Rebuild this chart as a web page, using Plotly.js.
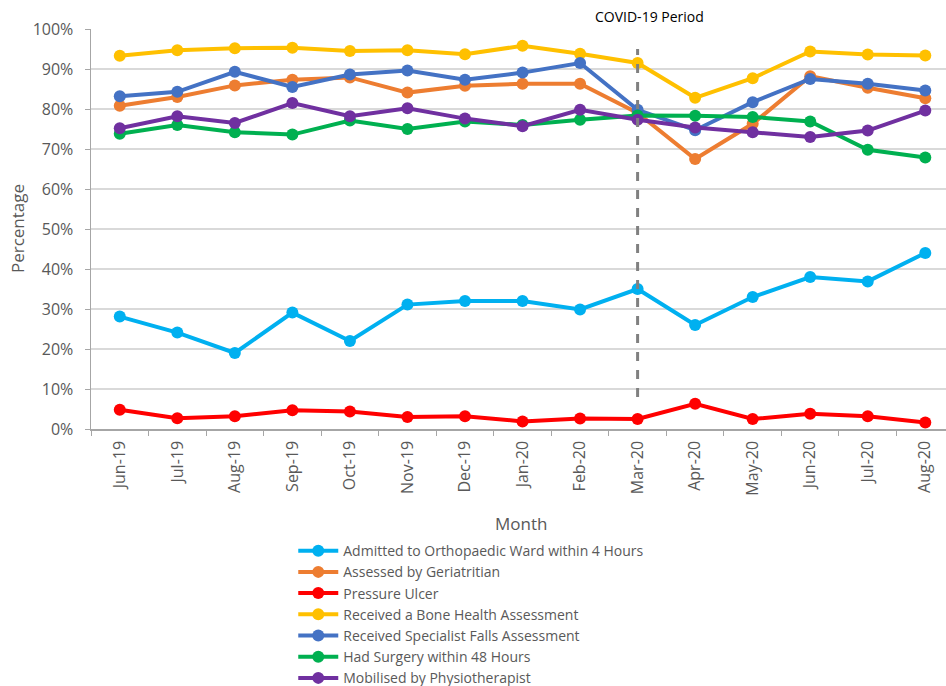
<!DOCTYPE html>
<html><head><meta charset="utf-8">
<script src="https://cdn.plot.ly/plotly-3.0.1.min.js"></script>
<style>html,body{margin:0;padding:0;overflow:hidden;background:#fff}</style>
</head><body>
<div id="chart" style="width:946px;height:686px"></div>
<script>
const months = ["Jun-19","Jul-19","Aug-19","Sep-19","Oct-19","Nov-19","Dec-19","Jan-20","Feb-20","Mar-20","Apr-20","May-20","Jun-20","Jul-20","Aug-20"];
const admittedWard = [28.1,24.1,19.0,29.1,22.0,31.1,32.0,32.0,29.9,35.0,26.0,33.0,38.0,36.9,44.0];
const geriatritian = [80.8,83.0,85.9,87.3,87.9,84.1,85.8,86.3,86.3,79.0,67.5,76.3,88.2,85.3,82.7];
const pressureUlcer = [4.8,2.7,3.2,4.7,4.4,3.0,3.2,1.9,2.6,2.5,6.3,2.5,3.8,3.2,1.6];
const boneHealth = [93.3,94.7,95.2,95.3,94.5,94.7,93.7,95.8,93.8,91.5,82.8,87.7,94.4,93.6,93.4];
const fallsAssessment = [83.2,84.3,89.3,85.5,88.6,89.6,87.3,89.1,91.5,79.8,74.7,81.7,87.5,86.3,84.6];
const surgery48h = [73.8,76.0,74.2,73.6,77.1,75.0,76.9,76.0,77.3,78.4,78.3,78.0,76.9,69.8,67.9];
const physio = [75.2,78.2,76.5,81.5,78.2,80.2,77.6,75.7,79.8,77.3,75.4,74.2,73.0,74.6,79.6];
const seriesNames = ["Admitted to Orthopaedic Ward within 4 Hours","Assessed by Geriatritian","Pressure Ulcer","Received a Bone Health Assessment","Received Specialist Falls Assessment","Had Surgery within 48 Hours","Mobilised by Physiotherapist"];
const seriesColors = ["#00B0F0","#ED7D31","#FF0000","#FFC000","#4472C4","#00B050","#7030A0"];
const seriesData = [admittedWard, geriatritian, pressureUlcer, boneHealth, fallsAssessment, surgery48h, physio];
const covidMonth = "Mar-20";
const covidLine = [8, 95];
const yTicks = [0,10,20,30,40,50,60,70,80,90,100];
const xTitle = "Month";
const yTitle = "Percentage";
const covidLabel = "COVID-19 Period";

const FONT = "'Open Sans', sans-serif";
const traces = seriesData.map((d, i) => ({
  x: months, y: d, name: seriesNames[i], type: "scatter", mode: "lines+markers",
  line: {color: seriesColors[i], width: 4},
  marker: {color: seriesColors[i], size: 12}
}));

const layout = {
  width: 946, height: 686,
  margin: {l: 91, r: 0, t: 29, b: 257, autoexpand: false},
  paper_bgcolor: "#fff", plot_bgcolor: "#fff",
  font: {family: FONT, color: "#595959", size: 15},
  showlegend: true,
  legend: {xref: "container", yref: "container", x: 0.31, xanchor: "left", y: 0.22, yanchor: "top", orientation: "v",
    font: {size: 14, color: "#595959"}, tracegroupgap: 0, itemwidth: 40, bgcolor: "rgba(0,0,0,0)"},
  xaxis: {
    type: "category", range: [-0.5, 14.36],
    showgrid: false, showline: true, linecolor: "#a6a6a6", linewidth: 1.5,
    ticks: "outside", ticklen: 5, tickcolor: "#a6a6a6", tickson: "boundaries",
    tickangle: -90, tickfont: {size: 16, color: "#595959"}, ticklabelstandoff: 4,
    zeroline: false, automargin: false
  },
  yaxis: {
    range: [0, 100], tickvals: yTicks, ticktext: yTicks.map(v => v + "%"),
    showgrid: true, gridcolor: "#d9d9d9", gridwidth: 1.5,
    showline: true, linecolor: "#a6a6a6", linewidth: 1.5,
    ticks: "outside", ticklen: 5, tickcolor: "#a6a6a6",
    tickfont: {size: 16, color: "#595959"}, ticklabelstandoff: 8,
    zeroline: false, automargin: false
  },
  shapes: [{
    type: "line", xref: "x", yref: "y", x0: covidMonth, x1: covidMonth,
    y0: covidLine[0], y1: covidLine[1],
    line: {color: "#808080", width: 3, dash: "dash"}
  }],
  annotations: [{
    text: covidLabel, xref: "x", yref: "paper", x: covidMonth, y: 1.03,
    xanchor: "center", yanchor: "middle", xshift: 12, showarrow: false,
    font: {size: 14, color: "#000"}
  }, {
    text: xTitle, xref: "paper", yref: "paper", x: 0.503, y: -0.235,
    xanchor: "center", yanchor: "middle", showarrow: false,
    font: {size: 17, color: "#595959"}
  }, {
    text: yTitle, xref: "paper", yref: "paper", x: -0.0865, y: 0.5, textangle: -90,
    xanchor: "center", yanchor: "middle", showarrow: false,
    font: {size: 17, color: "#595959"}
  }]
};
Plotly.newPlot("chart", traces, layout, {displayModeBar: false, staticPlot: true});
</script>
</body></html>
